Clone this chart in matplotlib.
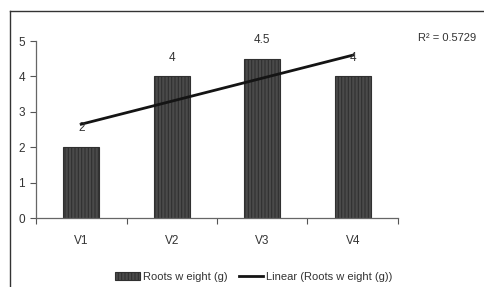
import numpy as np
import matplotlib.pyplot as plt
from matplotlib.lines import Line2D
from matplotlib.ticker import FixedLocator, NullFormatter

plt.rcParams['font.family'] = ['Liberation Sans Narrow', 'Liberation Sans', 'DejaVu Sans']
plt.rcParams['hatch.color'] = '#a0a0a0'
plt.rcParams['hatch.linewidth'] = 0.8

categories = ['V1', 'V2', 'V3', 'V4']
roots_weight = [2, 4, 4.5, 4]
value_labels = ['2', '4', '4.5', '4']
r2_text = 'R² = 0.5729'

x = np.arange(1, len(categories) + 1)
slope, intercept = np.polyfit(x, roots_weight, 1)
trend = slope * x + intercept

fig = plt.figure(figsize=(4.84, 2.87), dpi=100)
ax = fig.add_axes([0.0744, 0.2404, 0.7479, 0.6167])

bars = ax.bar(x, roots_weight, width=0.40, color='#4a4a4a', edgecolor='#303030',
              linewidth=0.8, hatch='|||||', label='Roots w eight (g)')
line, = ax.plot(x, trend, color='#141414', linewidth=2.0, label='Linear (Roots w eight (g))')

for xi, yi, lab in zip(x, roots_weight, value_labels):
    ax.annotate(lab, (xi, yi), xytext=(0, 13.5), textcoords='offset points',
                ha='center', va='center', fontsize=8.5, color='#333333')

ax.set_xlim(0.5, 4.5)
ax.set_ylim(0, 5)
ax.set_yticks([0, 1, 2, 3, 4, 5])
ax.xaxis.set_major_locator(FixedLocator([0.5, 1.5, 2.5, 3.5, 4.5]))
ax.xaxis.set_major_formatter(NullFormatter())
ax.xaxis.set_minor_locator(FixedLocator(list(x)))
ax.set_xticklabels(categories, minor=True)
ax.tick_params(axis='x', which='minor', length=0, pad=12, labelsize=8.5, labelcolor='#333333')
ax.tick_params(axis='x', which='major', length=4, direction='out', color='#555555')
ax.tick_params(axis='y', length=4, direction='out', color='#555555', labelsize=8.5,
               labelcolor='#333333', pad=4)
for s in ['top', 'right']:
    ax.spines[s].set_visible(False)
for s in ['left', 'bottom']:
    ax.spines[s].set_color('#666666')
    ax.spines[s].set_linewidth(0.9)

fig.text(418 / 484, 1 - 38 / 287, r2_text, fontsize=8, color='#333333', va='center', ha='left')

# outer chart border (left and top edges visible)
fig.add_artist(Line2D([10 / 484, 10 / 484], [0, 1 - 11 / 287], color='#333333', linewidth=1.0))
fig.add_artist(Line2D([10 / 484, 1], [1 - 11 / 287, 1 - 11 / 287], color='#333333', linewidth=1.0))

fig.legend(handles=[bars, line], loc='center', bbox_to_anchor=(254 / 484, 1 - 277 / 287),
           ncol=2, frameon=False, fontsize=8, handlelength=2.2, handletextpad=0.3,
           columnspacing=1.0, labelcolor='#333333')

fig.savefig('out.png', dpi=100)
